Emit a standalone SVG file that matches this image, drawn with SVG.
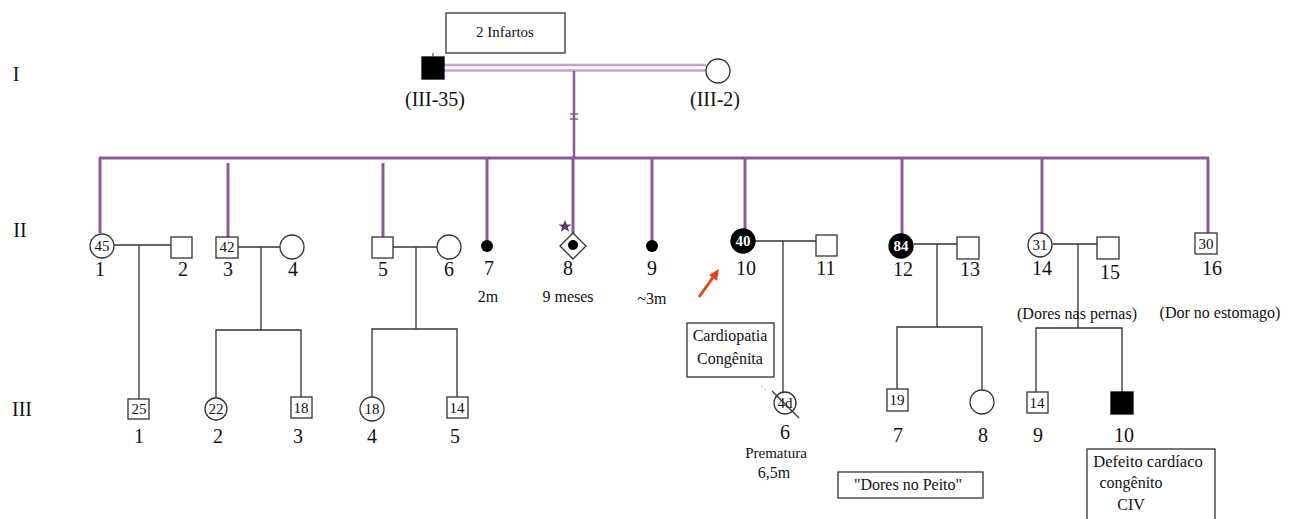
<svg xmlns="http://www.w3.org/2000/svg" width="1297" height="519" viewBox="0 0 1297 519">
<style>
text{font-family:"Liberation Serif","Times New Roman","DejaVu Serif",serif;fill:#111;text-anchor:middle}
.num{font-size:20px}
.lbl{font-size:16px}
.in{font-size:15px}
.inw{font-size:15px;fill:#fff;font-weight:bold}
.sym{fill:#fff;stroke:#333;stroke-width:1.3}
.aff{fill:#000;stroke:#000;stroke-width:1.3}
.box{fill:#fff;stroke:#333;stroke-width:1.3}
.pl{stroke:#8a5a96;stroke-width:3;fill:none}
.bl{stroke:#333;stroke-width:1.3;fill:none}
.dl{stroke:#c9a3d3;stroke-width:2.5;fill:none}
</style>
<rect width="1297" height="519" fill="#fff"/>
<g id="gen-labels">
<text x="16" y="81" class="num">I</text>
<text x="20" y="237" class="num">II</text>
<text x="22" y="416" class="num">III</text>
</g>
<g id="connectors">
<line x1="444" y1="65" x2="706" y2="65" class="dl"/>
<line x1="444" y1="70.5" x2="706" y2="70.5" class="dl"/>
<line x1="574" y1="71" x2="574" y2="157" stroke="#8a5a96" stroke-width="2.5"/>
<line x1="570" y1="114" x2="578" y2="114" stroke="#8a5a96" stroke-width="1.5"/>
<line x1="570" y1="119" x2="578" y2="119" stroke="#8a5a96" stroke-width="1.5"/>
<line x1="99" y1="158" x2="1209" y2="158" class="pl"/>
<line x1="100" y1="158" x2="100" y2="233" class="pl"/>
<line x1="228" y1="163" x2="228" y2="237" class="pl"/>
<line x1="383" y1="163" x2="383" y2="237" class="pl"/>
<line x1="487" y1="158" x2="487" y2="242" class="pl"/>
<line x1="573" y1="157" x2="573" y2="240" class="pl"/>
<line x1="652" y1="158" x2="652" y2="242" class="pl"/>
<line x1="745" y1="158" x2="745" y2="230" class="pl"/>
<line x1="902" y1="158" x2="902" y2="234" class="pl"/>
<line x1="1042" y1="158" x2="1042" y2="233" class="pl"/>
<line x1="1208" y1="158" x2="1208" y2="233" class="pl"/>
<line x1="114" y1="245" x2="171" y2="245" class="bl"/>
<line x1="139" y1="245" x2="139" y2="399" class="bl"/>
<line x1="238" y1="247" x2="280" y2="247" class="bl"/>
<line x1="261" y1="247" x2="261" y2="330" class="bl"/>
<polyline points="216,398 216,330 301,330 301,397" class="bl"/>
<line x1="393" y1="247" x2="437" y2="247" class="bl"/>
<line x1="416" y1="247" x2="416" y2="329" class="bl"/>
<polyline points="372,397 372,329 457,329 457,397" class="bl"/>
<line x1="755" y1="241" x2="816" y2="241" class="bl"/>
<line x1="783" y1="241" x2="783" y2="392" class="bl"/>
<line x1="914" y1="244" x2="957" y2="244" class="bl"/>
<line x1="937" y1="244" x2="937" y2="327" class="bl"/>
<polyline points="897,389 897,327 982,327 982,390" class="bl"/>
<line x1="1052" y1="244" x2="1097" y2="244" class="bl"/>
<line x1="1078" y1="244" x2="1078" y2="328" class="bl"/>
<polyline points="1036,392 1036,328 1122,328 1122,392" class="bl"/>
</g>
<g id="note-infartos">
<rect x="446" y="13" width="119" height="40" class="box"/>
<text x="505" y="37" style="font-size:15px">2 Infartos</text>
</g>
<g id="I-1">
<rect x="422" y="57" width="22" height="22" class="aff"/>
<line x1="433" y1="53" x2="433" y2="57" stroke="#333" stroke-width="1"/>
<text x="435" y="106" class="num">(III-35)</text>
</g>
<g id="I-2">
<circle cx="718" cy="71" r="12" class="sym"/>
<text x="715" y="106" class="num">(III-2)</text>
</g>
<g id="II-1">
<circle cx="102" cy="246" r="12" class="sym"/>
<text x="102" y="251" class="in">45</text>
<text x="100" y="276" class="num">1</text>
</g>
<g id="II-2">
<rect x="171" y="237" width="21" height="21" class="sym"/>
<text x="183" y="276" class="num">2</text>
</g>
<g id="II-3">
<rect x="216" y="237" width="22" height="21" class="sym"/>
<text x="227" y="252" class="in">42</text>
<text x="228" y="276" class="num">3</text>
</g>
<g id="II-4">
<circle cx="292" cy="247" r="12" class="sym"/>
<text x="293" y="276" class="num">4</text>
</g>
<g id="II-5">
<rect x="372" y="237" width="21" height="21" class="sym"/>
<text x="383" y="276" class="num">5</text>
</g>
<g id="II-6">
<circle cx="449" cy="247" r="12" class="sym"/>
<text x="449" y="276" class="num">6</text>
</g>
<g id="II-7">
<circle cx="487" cy="246" r="6" fill="#000"/>
<text x="489" y="275" class="num">7</text>
<text x="488" y="302" class="lbl">2m</text>
</g>
<g id="II-8">
<polygon points="573,233 586,246 573,259 560,246" class="sym"/>
<circle cx="573" cy="245" r="5" fill="#000"/>
<polygon points="565,220 566.8,224.5 571.5,224.5 567.7,227.3 569.2,231.8 565,229 560.8,231.8 562.3,227.3 558.5,224.5 563.2,224.5" fill="#5a3d66"/>
<text x="568" y="275" class="num">8</text>
<text x="568" y="302" class="lbl">9 meses</text>
</g>
<g id="II-9">
<circle cx="652" cy="246" r="6" fill="#000"/>
<text x="652" y="275" class="num">9</text>
<text x="652" y="304" class="lbl">~3m</text>
</g>
<g id="arrow">
<line x1="699" y1="297" x2="714" y2="276" stroke="#e0461e" stroke-width="3"/>
<polygon points="719,269 717,281 709,275" fill="#e0461e"/>
</g>
<g id="II-10">
<circle cx="743" cy="241" r="12" class="aff"/>
<text x="743" y="246" class="inw">40</text>
<text x="746" y="275" class="num">10</text>
</g>
<g id="II-11">
<rect x="816" y="235" width="21" height="21" class="sym"/>
<text x="826" y="275" class="num">11</text>
</g>
<g id="note-cardiopatia">
<rect x="687" y="323" width="87" height="54" class="box"/>
<text x="730" y="341" class="lbl">Cardiopatia</text>
<text x="730" y="364" class="lbl">Congênita</text>
</g>
<g id="II-12">
<circle cx="901" cy="246" r="12" class="aff"/>
<text x="901" y="251" class="inw">84</text>
<text x="903" y="276" class="num">12</text>
</g>
<g id="II-13">
<rect x="957" y="237" width="22" height="22" class="sym"/>
<text x="970" y="276" class="num">13</text>
</g>
<g id="II-14">
<circle cx="1040" cy="245" r="12" class="sym"/>
<text x="1040" y="250" class="in">31</text>
<text x="1042" y="275" class="num">14</text>
<text x="1077" y="319" class="lbl">(Dores nas pernas)</text>
</g>
<g id="II-15">
<rect x="1097" y="237" width="22" height="22" class="sym"/>
<text x="1110" y="279" class="num">15</text>
</g>
<g id="II-16">
<rect x="1195" y="233" width="22" height="21" class="sym"/>
<text x="1206" y="249" class="in">30</text>
<text x="1212" y="275" class="num">16</text>
<text x="1220" y="318" class="lbl">(Dor no estomago)</text>
</g>
<g id="III-1">
<rect x="128" y="399" width="21" height="20" class="sym"/>
<text x="139" y="414" class="in">25</text>
<text x="139" y="443" class="num">1</text>
</g>
<g id="III-2">
<circle cx="216" cy="409" r="11" class="sym"/>
<text x="216" y="414" class="in">22</text>
<text x="218" y="443" class="num">2</text>
</g>
<g id="III-3">
<rect x="291" y="397" width="21" height="21" class="sym"/>
<text x="301" y="413" class="in">18</text>
<text x="298" y="443" class="num">3</text>
</g>
<g id="III-4">
<circle cx="372" cy="409" r="12" class="sym"/>
<text x="372" y="414" class="in">18</text>
<text x="372" y="443" class="num">4</text>
</g>
<g id="III-5">
<rect x="447" y="397" width="21" height="21" class="sym"/>
<text x="457" y="413" class="in">14</text>
<text x="455" y="443" class="num">5</text>
</g>
<g id="III-6">
<circle cx="785" cy="403" r="11" class="sym"/>
<text x="785" y="408" class="in">4d</text>
<line x1="772" y1="391" x2="799" y2="418" stroke="#333" stroke-width="1.2"/>
<line x1="761" y1="386" x2="766" y2="390" stroke="#999" stroke-width="1" stroke-dasharray="2,2"/>
<text x="785" y="439" class="num">6</text>
<text x="776" y="458" style="font-size:15px">Prematura</text>
<text x="774" y="478" class="lbl">6,5m</text>
</g>
<g id="III-7">
<rect x="887" y="389" width="21" height="22" class="sym"/>
<text x="897" y="405" class="in">19</text>
<text x="898" y="442" class="num">7</text>
</g>
<g id="III-8">
<circle cx="982" cy="402" r="12" class="sym"/>
<text x="983" y="442" class="num">8</text>
</g>
<g id="note-peito">
<rect x="838" y="472" width="145" height="26" class="box"/>
<text x="908" y="490" class="lbl">"Dores no Peito"</text>
</g>
<g id="III-9">
<rect x="1027" y="392" width="21" height="21" class="sym"/>
<text x="1037" y="408" class="in">14</text>
<text x="1038" y="442" class="num">9</text>
</g>
<g id="III-10">
<rect x="1111" y="392" width="22" height="22" class="aff"/>
<text x="1124" y="442" class="num">10</text>
</g>
<g id="note-civ">
<rect x="1087" y="449" width="128" height="75" class="box"/>
<text x="1148" y="467" style="font-size:16.5px">Defeito cardíaco</text>
<text x="1131" y="488" class="lbl">congênito</text>
<text x="1131" y="510" class="lbl">CIV</text>
</g>
</svg>
